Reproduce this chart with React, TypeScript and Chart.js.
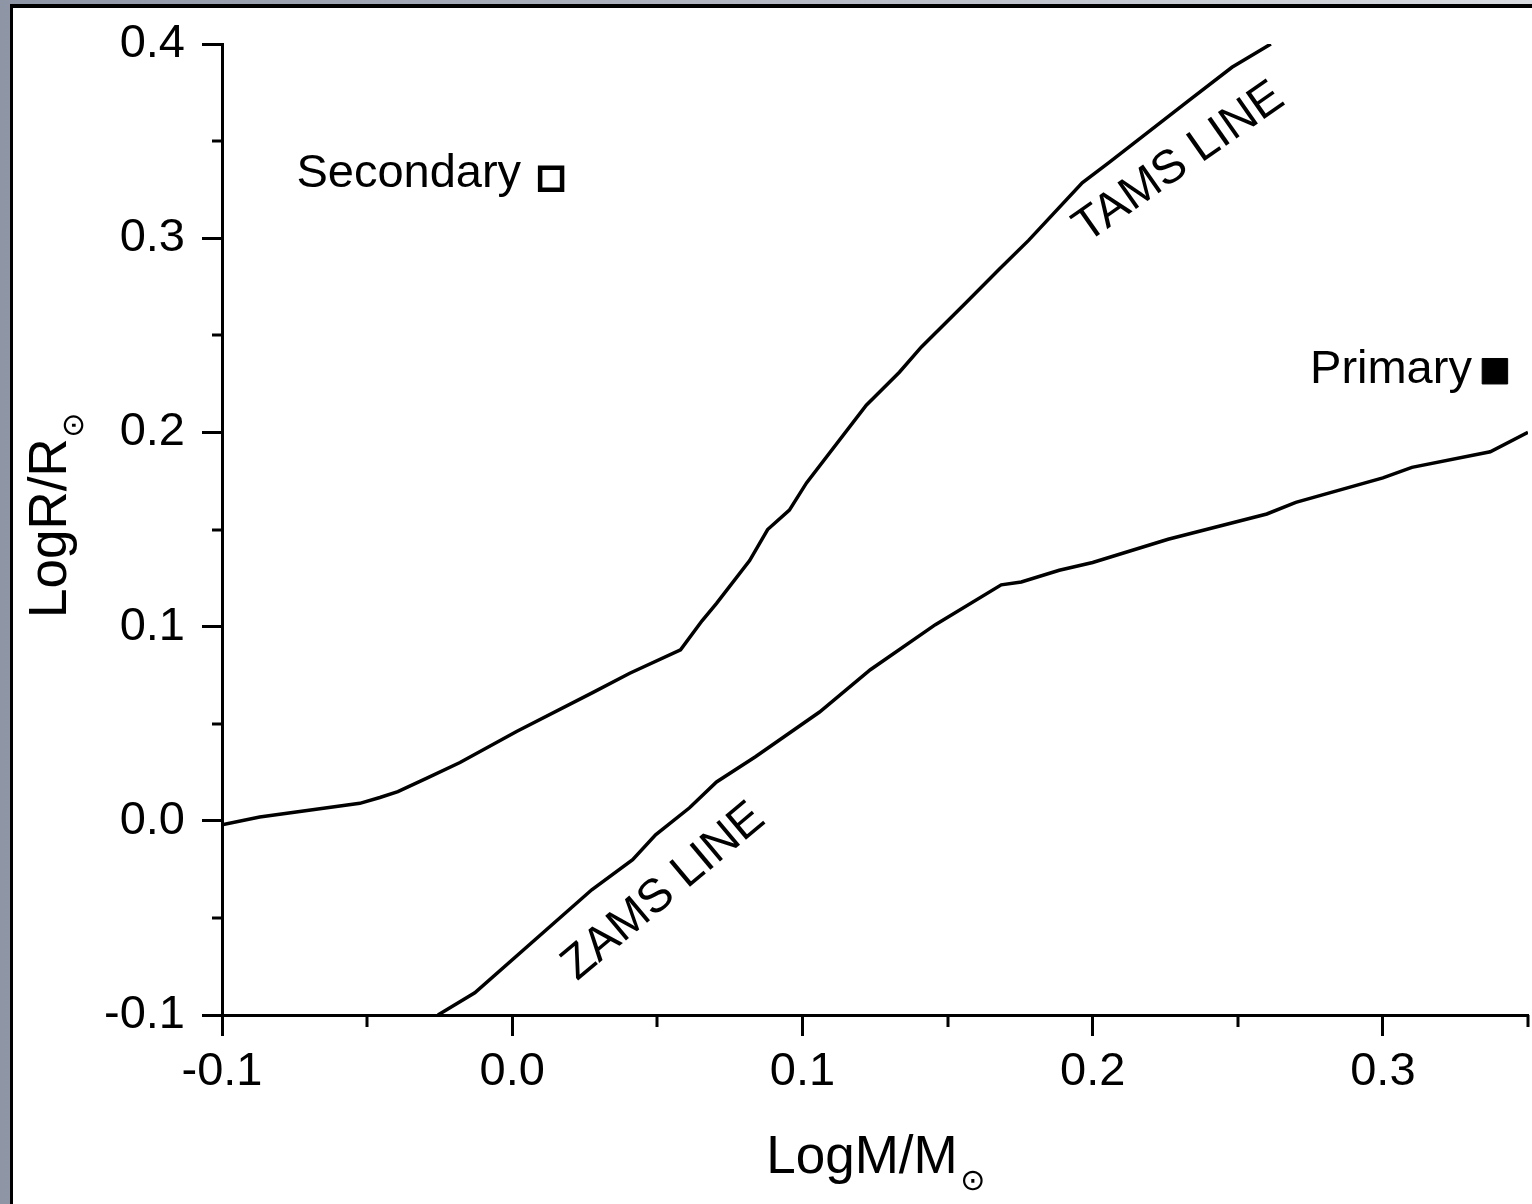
import React, { useEffect, useRef } from "react";
import { Chart, registerables } from "chart.js";

Chart.register(...registerables);

// ---- Data ----
const tamsMass = [
  -0.1, -0.087, -0.0525, -0.0456, -0.0394, -0.0294, -0.018, 0.0015, 0.0277, 0.0405,
  0.058, 0.0654, 0.0704, 0.0818, 0.088, 0.0955, 0.1014, 0.122, 0.1334, 0.141,
  0.1565, 0.1678, 0.178, 0.1964, 0.2057, 0.2332, 0.248, 0.2614,
];
const tamsRadius = [
  -0.002, 0.002, 0.009, 0.012, 0.015, 0.022, 0.03, 0.046, 0.066, 0.076,
  0.088, 0.103, 0.112, 0.134, 0.15, 0.16, 0.174, 0.214, 0.231, 0.244,
  0.267, 0.284, 0.299, 0.3285, 0.339, 0.371, 0.388, 0.4,
];
const zamsMass = [
  -0.0256, -0.0129, 0.0274, 0.0415, 0.0494, 0.0611, 0.0704, 0.0838, 0.1059, 0.1234,
  0.1458, 0.1685, 0.1754, 0.1885, 0.2, 0.226, 0.26, 0.27, 0.3, 0.31, 0.337, 0.35,
];
const zamsRadius = [
  -0.1, -0.0886, -0.0355, -0.02, -0.0072, 0.0067, 0.02, 0.033, 0.056, 0.0778,
  0.101, 0.1215, 0.123, 0.129, 0.133, 0.145, 0.158, 0.164, 0.1766, 0.182, 0.19, 0.2,
];
const starNames = ["Secondary", "Primary"];
const starMass = [0.0134, 0.3386];
const starRadius = [0.3306, 0.2315];

const xTickValues = [-0.1, -0.05, 0, 0.05, 0.1, 0.15, 0.2, 0.25, 0.3, 0.35];
const xTickLabels = ["-0.1", "", "0.0", "", "0.1", "", "0.2", "", "0.3", ""];
const yTickValues = [-0.1, -0.05, 0, 0.05, 0.1, 0.15, 0.2, 0.25, 0.3, 0.35, 0.4];
const yTickLabels = ["-0.1", "", "0.0", "", "0.1", "", "0.2", "", "0.3", "", "0.4"];

const xTitle = "LogM/M";
const yTitle = "LogR/R";
const sunSymbol = "\u2299";
const lineLabels = ["TAMS LINE", "ZAMS LINE"];
const lineLabelMass = [0.2298, 0.0522];
const lineLabelRadius = [0.3388, -0.0366];
const lineLabelAngle = [-35, -40];

const FONT = "'Liberation Sans', Arial, Helvetica, sans-serif";
const SUN_FONT = "'DejaVu Sans', sans-serif";

const framePlugin = {
  id: "frame",
  beforeDraw(chart: any) {
    const { ctx, width, height } = chart;
    ctx.save();
    const g = ctx.createLinearGradient(0, 0, width, 0);
    g.addColorStop(0, "#8e95a5");
    g.addColorStop(1, "#d8dbe0");
    ctx.fillStyle = g;
    ctx.fillRect(0, 0, width, height);
    ctx.fillStyle = "#000";
    ctx.fillRect(10, 4, width - 10, height - 4);
    ctx.fillStyle = "#fff";
    ctx.fillRect(13, 8, width - 13, height - 8);
    ctx.restore();
  },
};

const decorPlugin = {
  id: "decor",
  afterDraw(chart: any) {
    const { ctx, chartArea: ca } = chart;
    const xs = chart.scales.x;
    const ys = chart.scales.y;
    ctx.save();
    // minor ticks
    ctx.strokeStyle = "#000";
    ctx.lineWidth = 3;
    ctx.lineCap = "butt";
    xTickValues.forEach((v, i) => {
      if (xTickLabels[i] !== "") return;
      const px = Math.round(xs.getPixelForValue(v));
      ctx.beginPath();
      ctx.moveTo(px, ca.bottom);
      ctx.lineTo(px, ca.bottom + 12);
      ctx.stroke();
    });
    yTickValues.forEach((v, i) => {
      if (yTickLabels[i] !== "") return;
      const py = Math.round(ys.getPixelForValue(v));
      ctx.beginPath();
      ctx.moveTo(ca.left - 10, py);
      ctx.lineTo(ca.left, py);
      ctx.stroke();
    });

    ctx.fillStyle = "#000";
    // x title
    ctx.font = `53px ${FONT}`;
    const wx = ctx.measureText(xTitle).width;
    const totalX = wx + 26;
    const cx = (ca.left + ca.right) / 2;
    const sx = cx - totalX / 2;
    ctx.textAlign = "left";
    ctx.textBaseline = "alphabetic";
    ctx.fillText(xTitle, sx, ca.bottom + 158);
    ctx.font = `30px ${SUN_FONT}`;
    ctx.textAlign = "center";
    ctx.textBaseline = "middle";
    ctx.fillText(sunSymbol, sx + wx + 15, ca.bottom + 167);

    // y title
    ctx.save();
    ctx.translate(66, ca.bottom - 397);
    ctx.rotate(-Math.PI / 2);
    ctx.font = `53px ${FONT}`;
    const wy = ctx.measureText(yTitle).width;
    ctx.textAlign = "left";
    ctx.textBaseline = "alphabetic";
    ctx.fillText(yTitle, 0, 0);
    ctx.font = `30px ${SUN_FONT}`;
    ctx.textAlign = "center";
    ctx.textBaseline = "middle";
    ctx.fillText(sunSymbol, wy + 13, 9);
    ctx.restore();

    // star labels
    ctx.font = `47px ${FONT}`;
    ctx.textAlign = "right";
    ctx.textBaseline = "alphabetic";
    const offs = [
      [-30, 8],
      [-23, 11.5],
    ];
    starNames.forEach((name, i) => {
      const px = xs.getPixelForValue(starMass[i]);
      const py = ys.getPixelForValue(starRadius[i]);
      ctx.fillText(name, px + offs[i][0], py + offs[i][1]);
    });

    // line labels
    ctx.font = `47px ${FONT}`;
    ctx.textAlign = "center";
    ctx.textBaseline = "middle";
    lineLabels.forEach((t, i) => {
      const px = xs.getPixelForValue(lineLabelMass[i]);
      const py = ys.getPixelForValue(lineLabelRadius[i]);
      ctx.save();
      ctx.translate(px, py);
      ctx.rotate((lineLabelAngle[i] * Math.PI) / 180);
      ctx.fillText(t, 0, 0);
      ctx.restore();
    });
    ctx.restore();
  },
};

export default function App() {
  const ref = useRef<HTMLCanvasElement | null>(null);
  useEffect(() => {
    if (!ref.current) return;
    const toPts = (xsA: number[], ysA: number[]) => xsA.map((x, i) => ({ x, y: ysA[i] }));
    const chart = new Chart(ref.current, {
      type: "scatter",
      data: {
        datasets: [
          {
            label: "TAMS",
            data: toPts(tamsMass, tamsRadius),
            showLine: true,
            borderColor: "#000",
            borderWidth: 3.5,
            pointRadius: 0,
            tension: 0,
          },
          {
            label: "ZAMS",
            data: toPts(zamsMass, zamsRadius),
            showLine: true,
            borderColor: "#000",
            borderWidth: 3.5,
            pointRadius: 0,
            tension: 0,
          },
          {
            label: starNames[0],
            data: [{ x: starMass[0], y: starRadius[0] }],
            pointStyle: "rect",
            pointRadius: 15.5,
            pointBorderWidth: 4.5,
            pointBackgroundColor: "#fff",
            pointBorderColor: "#000",
          },
          {
            label: starNames[1],
            data: [{ x: starMass[1], y: starRadius[1] }],
            pointStyle: "rect",
            pointRadius: 18,
            pointBorderWidth: 1,
            pointBackgroundColor: "#000",
            pointBorderColor: "#000",
          },
        ],
      },
      options: {
        responsive: false,
        animation: false,
        devicePixelRatio: 1,
        layout: { autoPadding: false, padding: { left: 0, top: 44, right: 4, bottom: 0 } },
        plugins: {
          legend: { display: false },
          tooltip: { enabled: false },
          title: { display: false },
        },
        scales: {
          x: {
            type: "linear",
            min: -0.1,
            max: 0.35,
            afterBuildTicks: (s: any) => {
              s.ticks = xTickValues.map((v) => ({ value: v }));
            },
            afterFit: (s: any) => {
              s.height = 189;
              s.paddingLeft = 0;
              s.paddingRight = 0;
            },
            ticks: {
              autoSkip: false,
              maxRotation: 0,
              padding: 8,
              color: "#000",
              font: { family: FONT, size: 47 },
              callback: (_v: any, i: number) => xTickLabels[i],
            },
            grid: {
              display: true,
              drawOnChartArea: false,
              tickLength: 21,
              tickWidth: 3,
              tickColor: (c: any) => (xTickLabels[c.index] ? "#000" : "rgba(0,0,0,0)"),
            },
            border: { display: true, color: "#000", width: 3 },
          },
          y: {
            type: "linear",
            min: -0.1,
            max: 0.4,
            afterBuildTicks: (s: any) => {
              s.ticks = yTickValues.map((v) => ({ value: v }));
            },
            afterFit: (s: any) => {
              s.width = 222;
              s.paddingTop = 0;
              s.paddingBottom = 0;
            },
            ticks: {
              autoSkip: false,
              padding: 17,
              color: "#000",
              font: { family: FONT, size: 47 },
              callback: (_v: any, i: number) => yTickLabels[i],
            },
            grid: {
              display: true,
              drawOnChartArea: false,
              tickLength: 20,
              tickWidth: 3,
              tickColor: (c: any) => (yTickLabels[c.index] ? "#000" : "rgba(0,0,0,0)"),
            },
            border: { display: true, color: "#000", width: 3 },
          },
        },
      },
      plugins: [framePlugin, decorPlugin],
    } as any);
    return () => chart.destroy();
  }, []);
  return (
    <div style={{ position: "absolute", left: 0, top: 0, width: 1532, height: 1204 }}>
      <canvas ref={ref} width={1532} height={1204} style={{ display: "block" }} />
    </div>
  );
}
